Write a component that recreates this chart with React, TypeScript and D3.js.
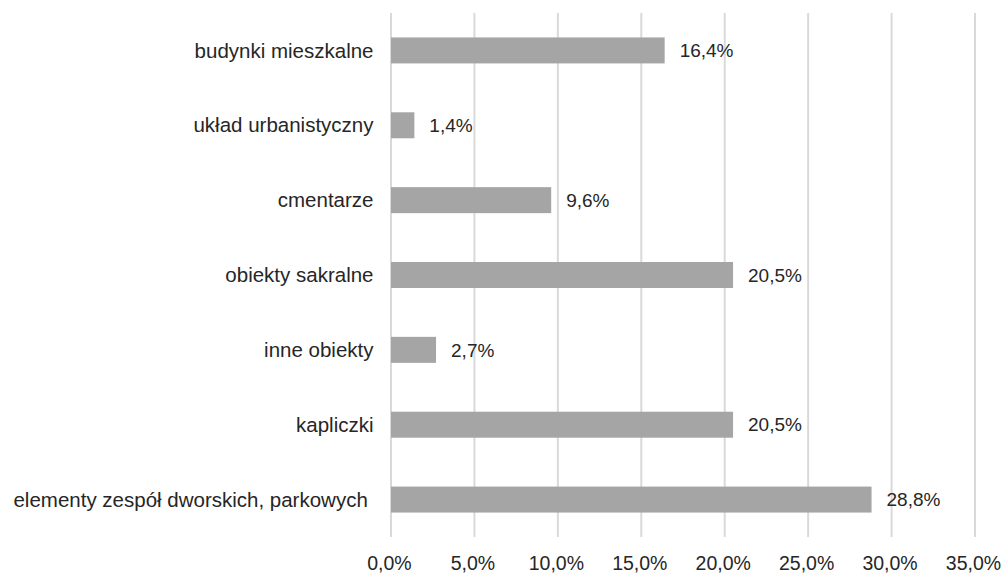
import React from 'react'
import * as d3 from 'd3'

const categories = [
  'budynki mieszkalne',
  'układ urbanistyczny',
  'cmentarze',
  'obiekty sakralne',
  'inne obiekty',
  'kapliczki',
  'elementy zespół dworskich, parkowych ',
]
const values = [16.4, 1.4, 9.6, 20.5, 2.7, 20.5, 28.8]
const ticks = [0, 5, 10, 15, 20, 25, 30, 35]

const fmt = (v: number) => `${v.toFixed(1).replace('.', ',')}%`

const App: React.FunctionComponent = () => {
  const width = 1003
  const height = 574
  const margin = { top: 13, left: 391, bottom: 37, right: 28 }
  const font = '"Liberation Sans", Arial, sans-serif'

  const xScale = d3
    .scaleLinear()
    .domain([0, 35])
    .range([margin.left, width - margin.right])

  const yScale = d3
    .scaleBand<string>()
    .domain(categories)
    .range([margin.top, height - margin.bottom])
    .paddingInner(0.653)
    .paddingOuter(0.3265)

  return (
    <svg
      width={width}
      height={height}
      style={{ position: 'absolute', left: 0, top: 0, background: '#fff' }}
    >
      {ticks.map(t => (
        <line
          key={`g${t}`}
          x1={xScale(t)}
          x2={xScale(t)}
          y1={margin.top}
          y2={height - margin.bottom}
          stroke="#d9d9d9"
          strokeWidth={2}
        />
      ))}

      {categories.map((c, i) => {
        const y = yScale(c) || 0
        const bw = yScale.bandwidth()
        return (
          <g key={c}>
            <rect
              x={xScale(0)}
              y={y}
              width={xScale(values[i]) - xScale(0)}
              height={bw}
              fill="#a5a5a5"
            />
            <text
              x={xScale(values[i]) + 15}
              y={y + bw / 2}
              dy="0.35em"
              fontFamily={font}
              fontSize={19}
              fill="#262626"
            >
              {fmt(values[i])}
            </text>
            <text
              x={373.5}
              y={y + bw / 2}
              dy="0.35em"
              textAnchor="end"
              fontFamily={font}
              fontSize={20.5}
              fill="#262626"
              style={{ whiteSpace: 'pre' }}
            >
              {c}
            </text>
          </g>
        )
      })}

      {ticks.map(t => (
        <text
          key={`t${t}`}
          x={xScale(t) - 1.5}
          y={563}
          dy="0.35em"
          textAnchor="middle"
          fontFamily={font}
          fontSize={19.5}
          fill="#262626"
        >
          {fmt(t)}
        </text>
      ))}
    </svg>
  )
}

export default App
